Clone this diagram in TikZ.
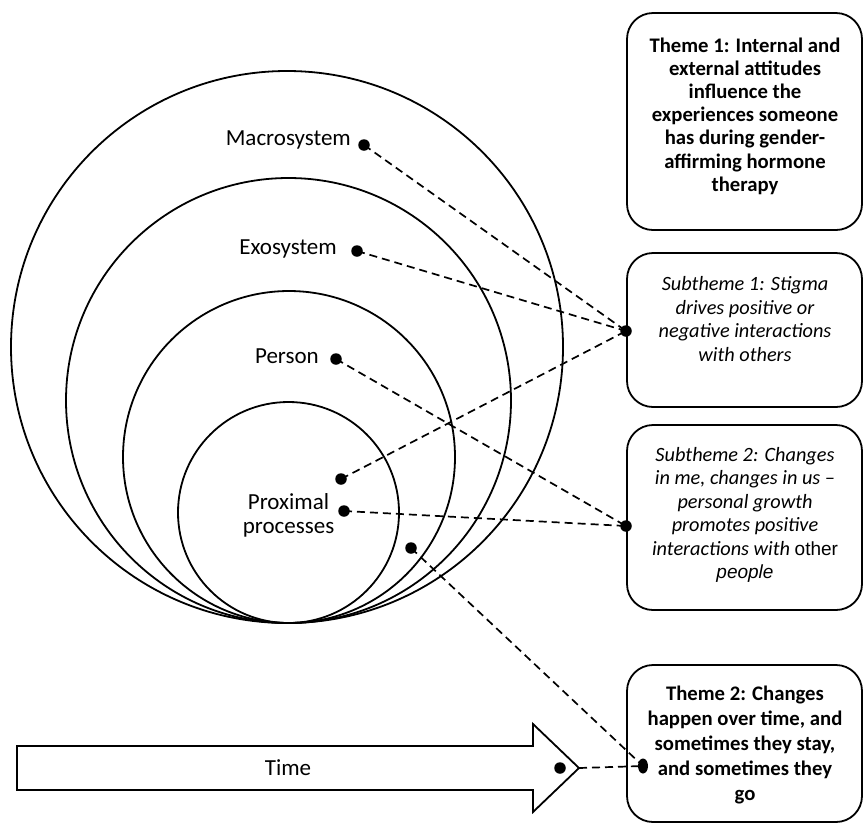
\documentclass[tikz,border=0pt]{standalone}
\usepackage{fontspec}
\setmainfont{Carlito}
\newfontfamily\arialfont{Liberation Sans}
\usetikzlibrary{shapes.geometric}
\tikzset{
  ring/.style={draw=black, line width=1.8pt},
  themebox/.style={draw=black, line width=1.8pt, rounded corners=26pt, minimum width=235pt, inner sep=0pt},
  dotnode/.style={circle, fill=black, inner sep=0pt, minimum size=11.5pt},
  link/.style={draw=black, line width=1.7pt, dash pattern=on 8pt off 5pt},
  lab/.style={inner sep=0pt, font=\fontsize{23}{24}\selectfont},
  boldtext/.style={align=center, inner sep=0pt, font=\fontsize{20.7}{23.2}\selectfont\bfseries},
  ittext/.style={align=center, inner sep=0pt, font=\fontsize{20.3}{23.5}\selectfont\itshape}
}
\begin{document}
\begin{tikzpicture}[x=1pt,y=-1pt]
\useasboundingbox (0,0) rectangle (864,823);
% circles
\draw[ring] (287,347) circle (276pt);
\draw[ring] (288.5,400.5) circle (222.5pt);
\draw[ring] (289,457) circle (166pt);
\draw[ring] (288.5,512.5) circle (110.5pt);
% boxes
\node[themebox, minimum height=217pt] (t1) at (744.5,121.5) {};
\node[boldtext] (t1text) at (745,116) {Theme 1: Internal and\\external attitudes\\influence the\\experiences someone\\has during gender-\\affirming hormone\\therapy};
\node[themebox, minimum height=154pt] (s1) at (744.5,330) {};
\node[ittext] (s1text) at (745,319) {Subtheme 1: Stigma\\drives positive or\\negative interactions\\with others};
\node[themebox, minimum height=185pt] (s2) at (744.5,517.5) {};
\node[ittext] (s2text) at (745,515) {Subtheme 2: Changes\\in me, changes in us –\\personal growth\\promotes positive\\interactions with {\arialfont\upshape\fontsize{19}{23.5}\selectfont other}\\{\arialfont\itshape\fontsize{19}{23.5}\selectfont people}};
\node[themebox, minimum height=157pt] (t2) at (744.5,743.5) {};
\node[boldtext, font=\fontsize{20.7}{25}\selectfont\bfseries] (t2text) at (745,745) {Theme 2: Changes\\happen over time, and\\sometimes they stay,\\and sometimes they\\go};
% time arrow
\draw[line width=1.8pt, line join=miter] (17,746) -- (533,746) -- (533,724) -- (579,768) -- (533,812) -- (533,790) -- (17,790) -- cycle;
\coordinate (tip) at (579,768);
\node[lab] (time) at (288,768) {Time};
% labels
\node[lab, anchor=east] (lmac) at (351,140) {Macrosystem};
\node[lab, anchor=east] (lexo) at (337,249) {Exosystem};
\node[lab, anchor=east] (lper) at (319,356) {Person};
\node[lab, align=center] (lprox) at (288.5,515) {Proximal\\processes};
% dots
\node[dotnode] (dmac) at (364,145) {};
\node[dotnode] (dexo) at (357,251) {};
\node[dotnode] (dper) at (336,359) {};
\node[dotnode] (da) at (341,479) {};
\node[dotnode] (dprox) at (344,511) {};
\node[dotnode] (db) at (411,548) {};
\node[dotnode] (ds1) at (626,331) {};
\node[dotnode] (ds2) at (626,526) {};
\node[dotnode] (dtime) at (560,768) {};
\node[ellipse, fill=black, inner sep=0pt, minimum width=10pt, minimum height=15pt] (dt2) at (643,766) {};
% links
\draw[link] (dmac.center) -- (ds1.center);
\draw[link] (dexo.center) -- (ds1.center);
\draw[link] (da.center) -- (ds1.center);
\draw[link] (dper.center) -- (ds2.center);
\draw[link] (dprox.center) -- (ds2.center);
\draw[link] (db.center) -- (dt2.center);
\draw[link] (tip) -- (dt2.center);
\end{tikzpicture}
\end{document}
